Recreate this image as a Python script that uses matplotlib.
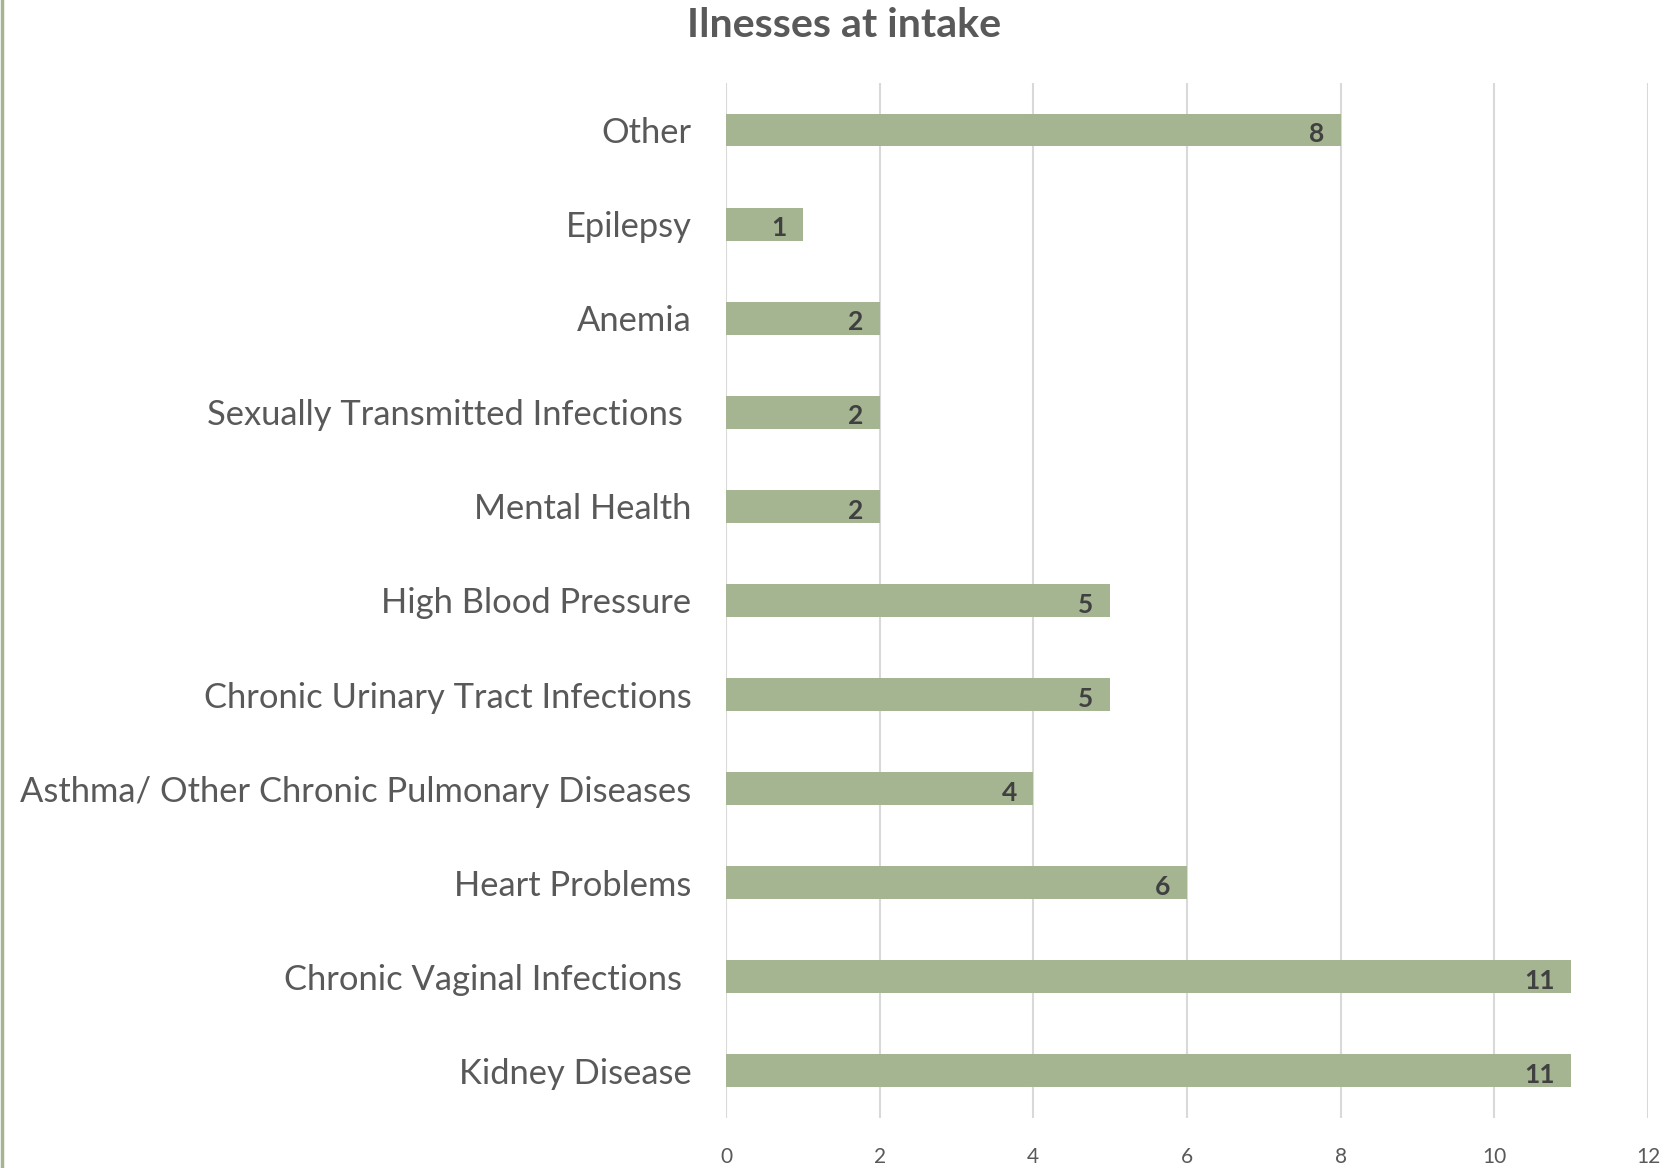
import matplotlib
matplotlib.use("Agg")
import matplotlib.pyplot as plt
from matplotlib.lines import Line2D

categories = ["Kidney Disease", "Chronic Vaginal Infections ", "Heart Problems",
              "Asthma/ Other Chronic Pulmonary Diseases", "Chronic Urinary Tract Infections",
              "High Blood Pressure", "Mental Health", "Sexually Transmitted Infections ",
              "Anemia", "Epilepsy", "Other"]
values = [11, 11, 6, 4, 5, 5, 2, 2, 2, 1, 8]
xticks = [0, 2, 4, 6, 8, 10, 12]
title = "Ilnesses at intake"

plt.rcParams['font.family'] = ['Lato', 'DejaVu Sans']
fig = plt.figure(figsize=(16.69, 11.68), dpi=100)
ax = fig.add_axes([0.435, 0.0428, 0.9874 - 0.435, 0.929 - 0.0428])

bar_color = "#a5b491"
ypos = list(range(len(categories)))
bars = ax.barh(ypos, values, height=0.35, color=bar_color, zorder=3)
ax.set_xlim(0, 12)
ax.set_ylim(-0.5, len(categories) - 0.5)
ax.set_xticks(xticks)
ax.set_xticklabels([str(t) for t in xticks], fontsize=15, color="#595959")
ax.set_yticks(ypos)
ax.set_yticklabels(categories, fontsize=24.8, color="#595959")
for lbl in ax.get_yticklabels():
    lbl.set_va("center_baseline")
ax.tick_params(axis='both', length=0)
ax.tick_params(axis='y', pad=25)
ax.tick_params(axis='x', pad=21)
ax.grid(axis='x', color="#d9d9d9", linewidth=1.5, zorder=0)
for s in ax.spines.values():
    s.set_visible(False)

for b, v in zip(bars, values):
    ax.annotate(str(v), xy=(b.get_width(), b.get_y() + b.get_height() / 2),
                xytext=(-12, -3), textcoords="offset points", ha="right", va="center",
                fontsize=19, fontweight="bold", color="#404040", zorder=4)

fig.text(0.506, 0.978, title, ha="center", va="center", fontsize=29.6,
         fontweight="bold", color="#595959")

fig.add_artist(Line2D([0.001, 0.001], [0, 1], transform=fig.transFigure,
                      color=bar_color, linewidth=2.5))

fig.savefig("out.png", dpi=100, facecolor="white")
